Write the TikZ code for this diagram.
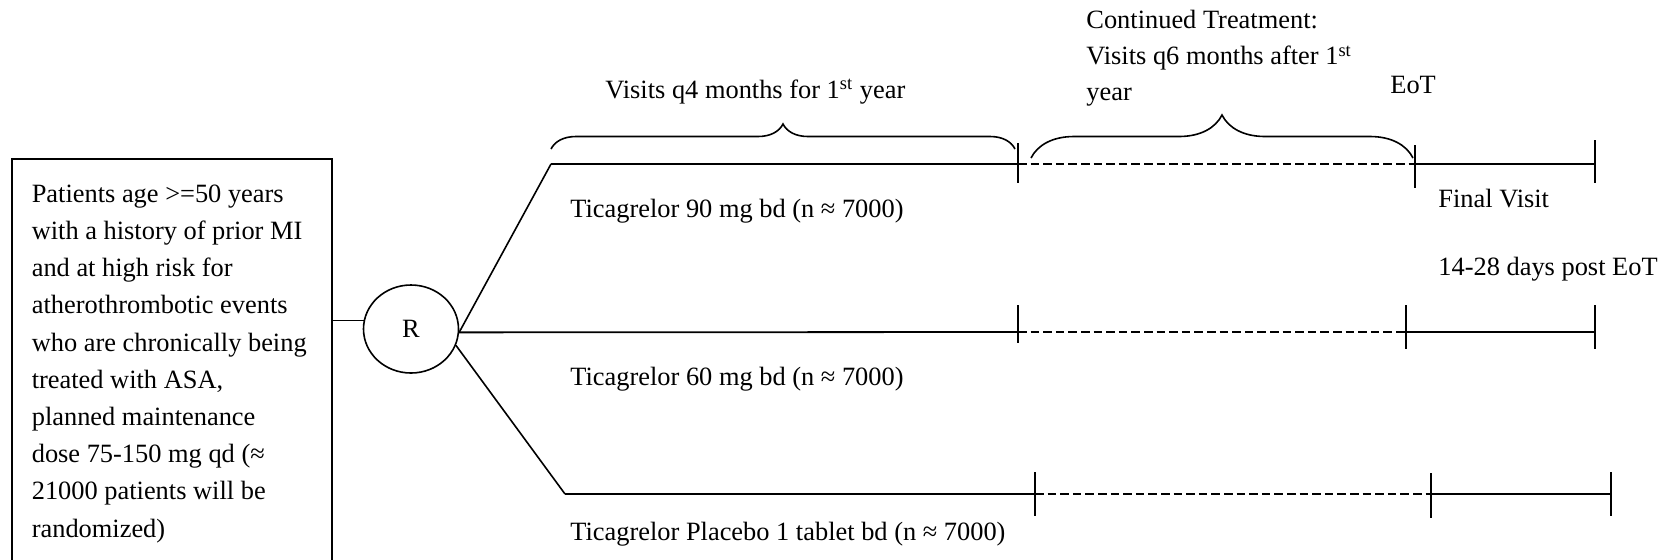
\documentclass[tikz,border=0pt]{standalone}
\usepackage{fontspec}
\setmainfont{Liberation Serif}
\usetikzlibrary{positioning,shapes.geometric,decorations.pathreplacing}

\tikzset{
  lbl/.style={inner sep=0pt,font=\fontsize{13.2}{18}\selectfont},
  arm/.style={line width=0.9pt},
  cont/.style={line width=0.9pt,dash pattern=on 4.3pt off 2pt},
  tick/.style={line width=0.9pt},
  curly/.style={decorate,decoration={brace,amplitude=#1},line width=0.8pt}
}

\begin{document}
\begin{tikzpicture}[x=0.5pt,y=-0.5pt]
  \useasboundingbox (0,0) rectangle (1671,559);
  \clip (0,0) rectangle (1671,559);
  \node[draw,line width=0.8pt,anchor=north west,text width=140pt,inner xsep=10pt,inner ysep=13pt,align=left,font=\fontsize{13.2}{18.6}\selectfont] (pbox) at (11,158) {\spaceskip=0pt\xspaceskip=0pt Patients age >=50 years\\with a history of prior MI\\and at high risk for\\atherothrombotic events\\who are chronically being\\treated with ASA,\\planned maintenance\\dose 75-150 mg qd (≈\\21000 patients will be\\randomized)};
  \node[draw,ellipse,line width=0.8pt,minimum width=47.5pt,minimum height=44pt,inner sep=0pt,font=\fontsize{13.2}{16}\selectfont] (R) at (411,329) {R};
  \draw[line width=0.8pt] (R.170 -| pbox.east) -- (R.170);
  \coordinate (s1) at (551,164);
  \coordinate (p1) at (1018,164);
  \coordinate (q1) at (1415,164);
  \coordinate (e1) at (1595,164);
  \coordinate (p2) at (1018,332);
  \coordinate (q2) at (1406,332);
  \coordinate (e2) at (1595,332);
  \coordinate (s3) at (565,494);
  \coordinate (p3) at (1035,494);
  \coordinate (q3) at (1431,494);
  \coordinate (e3) at (1611,494);
  \draw[line width=0.8pt] (R.-4) -- (s1);
  \draw[line width=0.8pt] (R.-20) -- (s3);
  \draw[arm] (s1) -- (p1);
  \draw[cont] (p1) -- (q1);
  \draw[arm] (q1) -- (e1);
  \draw[arm] (R.-4) -- (p2);
  \draw[cont] (p2) -- (q2);
  \draw[arm] (q2) -- (e2);
  \draw[arm] (s3) -- (p3);
  \draw[cont] (p3) -- (q3);
  \draw[arm] (q3) -- (e3);
  \draw[tick] (1018,143) -- (1018,183);
  \draw[tick] (1415,145) -- (1415,188);
  \draw[tick] (1595,140) -- (1595,183);
  \draw[tick] (1018,305) -- (1018,343);
  \draw[tick] (1406,305) -- (1406,349);
  \draw[tick] (1595,305) -- (1595,349);
  \draw[tick] (1035,472) -- (1035,516);
  \draw[tick] (1431,473) -- (1431,518);
  \draw[tick] (1611,472) -- (1611,516);
  \draw[curly=12.5pt] (551,149) -- (1015,149);
  \draw[curly=21.5pt] (1031,158) -- (1413,158);
  \node[lbl,anchor=base west] (q4) at (605,98) {Visits q4 months for 1\textsuperscript{st} year};
  \node[lbl,anchor=north west,align=left] (q6) at (1086,10) {Continued Treatment:\\Visits q6 months after 1\textsuperscript{st}\\year};
  \node[lbl,anchor=base west] (eot) at (1390,93) {EoT};
  \node[lbl,anchor=base west] (fv) at (1438,207) {Final Visit};
  \node[lbl,anchor=base west] (post) at (1438,275) {14-28 days post EoT};
  \node[lbl,anchor=base west] (t90) at (570,217) {Ticagrelor 90 mg bd (n ≈ 7000)};
  \node[lbl,anchor=base west] (t60) at (570,385) {Ticagrelor 60 mg bd (n ≈ 7000)};
  \node[lbl,anchor=base west] (tpl) at (570,540) {Ticagrelor Placebo 1 tablet bd (n ≈ 7000)};
\end{tikzpicture}
\end{document}
